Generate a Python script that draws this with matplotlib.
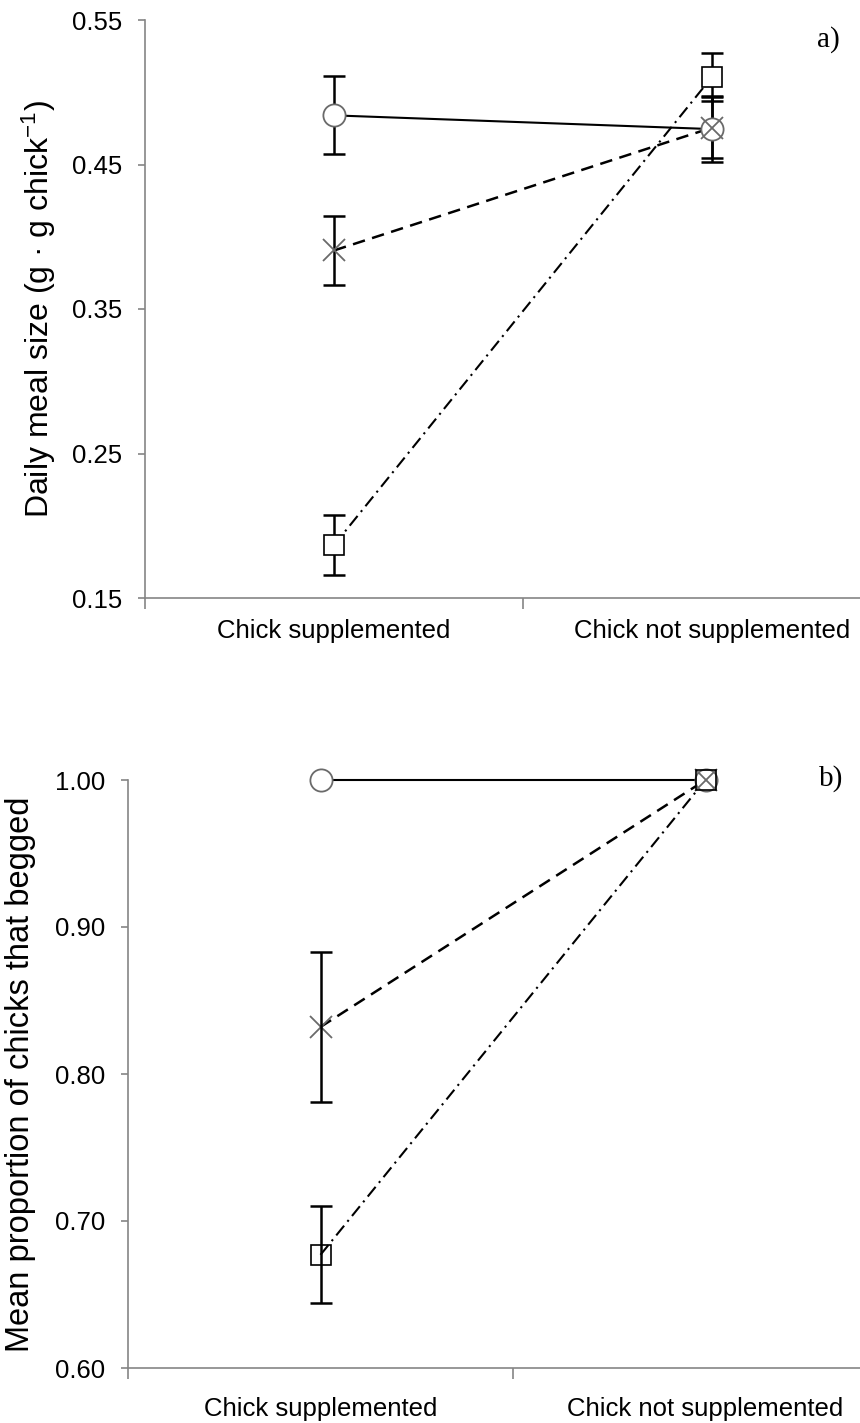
import matplotlib
matplotlib.use("Agg")
import matplotlib.pyplot as plt
import numpy as np

plt.rcParams['font.family'] = ['Liberation Sans', 'DejaVu Sans']
plt.rcParams['mathtext.fontset'] = 'custom'
plt.rcParams['mathtext.rm'] = 'Liberation Sans'
plt.rcParams['mathtext.it'] = 'Liberation Sans'

# ---------------- data ----------------
categories = ["Chick supplemented", "Chick not supplemented"]

# panel a) daily meal size
meal_circle = [0.484, 0.4745]
meal_circle_err = [0.027, 0.023]
meal_star = [0.3905, 0.4755]
meal_star_err = [0.0237, 0.021]
meal_square = [0.1866, 0.5106]
meal_square_err = [0.0207, 0.0166]
meal_ticks = [0.15, 0.25, 0.35, 0.45, 0.55]

# panel b) proportion of chicks that begged
beg_circle = [1.00, 1.00]
beg_circle_err = [0.0, 0.0]
beg_star = [0.832, 1.00]
beg_star_err = [0.051, 0.0]
beg_square = [0.677, 1.00]
beg_square_err = [0.033, 0.0]
beg_ticks = [0.60, 0.70, 0.80, 0.90, 1.00]

# ---------------- figure ----------------
W, H = 860, 1423
fig = plt.figure(figsize=(W / 100, H / 100), dpi=100)
ax1 = fig.add_axes([145 / W, 1 - 598 / H, (901 - 145) / W, 578 / H])
ax2 = fig.add_axes([128 / W, 1 - 1368 / H, (898 - 128) / W, 588 / H])

spine_col = '#858585'
mk_gray = '#6a6a6a'
x = np.arange(1, len(categories) + 1)

styles = {
    'circle': dict(ls='-', lw=1.5, marker='o', ms=16, mec=mk_gray, mew=1.3),
    'star': dict(ls=(0, (5, 3)), lw=1.8, marker='x', ms=16, mec=mk_gray, mew=1.3),
    'square': dict(ls=(0, (6, 2.5, 1, 2.5)), lw=1.5, marker='s', ms=15, mec='black', mew=1.2),
}


def draw(ax, series, err_z, square_face):
    for key, vals, errs in series:
        st = styles[key]
        vals = np.asarray(vals)
        errs = np.asarray(errs)
        ax.plot(x, vals, color='black', ls=st['ls'], lw=st['lw'], zorder=2)
        m = errs > 0
        if m.any():
            ax.errorbar(x[m], vals[m], yerr=errs[m], fmt='none', ecolor='black',
                        elinewidth=1.8, capsize=8, capthick=1.8, zorder=err_z)
        fc = 'white'
        if key == 'star':
            fc = 'none'
        if key == 'square':
            fc = square_face
        ax.plot(x, vals, ls='none', marker=st['marker'], ms=st['ms'],
                mfc=fc, mec=st['mec'], mew=st['mew'], zorder=4)


def style_axes(ax, ticks, ylim, pad_x):
    ax.set_xlim(0.5, len(categories) + 0.5)
    ax.set_ylim(*ylim)
    for s in ['top', 'right']:
        ax.spines[s].set_visible(False)
    for s in ['left', 'bottom']:
        ax.spines[s].set_color(spine_col)
        ax.spines[s].set_linewidth(1.2)
    ax.set_xticks(np.arange(0.5, len(categories) + 1, 1.0))
    ax.set_xticklabels([])
    ax.set_xticks(x, minor=True)
    ax.set_xticklabels(categories, minor=True)
    ax.tick_params(axis='x', which='major', length=8, width=1.2, color=spine_col, direction='out')
    ax.tick_params(axis='x', which='minor', length=0, pad=pad_x, labelsize=18.5)
    ax.set_yticks(ticks)
    ax.set_yticklabels(['%.2f' % t for t in ticks])
    ax.tick_params(axis='y', length=5, width=1.2, color=spine_col, pad=11.5, labelsize=18.5)


draw(ax1, [('circle', meal_circle, meal_circle_err),
           ('star', meal_star, meal_star_err),
           ('square', meal_square, meal_square_err)], err_z=3, square_face='white')
style_axes(ax1, meal_ticks, (0.15, 0.55), pad_x=15)
ax1.set_ylabel("Daily meal size (g \u00b7 g chick$^{\\mathregular{-1}}$)", fontsize=23)
ax1.yaxis.set_label_coords((58 - 145) / 756, 0.5)

draw(ax2, [('circle', beg_circle, beg_circle_err),
           ('star', beg_star, beg_star_err),
           ('square', beg_square, beg_square_err)], err_z=5, square_face='none')
style_axes(ax2, beg_ticks, (0.60, 1.00), pad_x=21)
ax2.set_ylabel("Mean proportion of chicks that begged", fontsize=23.5)
ax2.yaxis.set_label_coords((36 - 128) / 770, 0.5)

for c in (ax1, ax2):
    for ln in c.lines:
        ln.set_clip_on(False)
    for coll in c.collections:
        coll.set_clip_on(False)

fig.text(840 / W, 1 - 40 / H, 'a)', ha='right', va='center', fontsize=21,
         family=['Liberation Serif', 'DejaVu Serif'])
fig.text(843 / W, 1 - 779 / H, 'b)', ha='right', va='center', fontsize=21,
         family=['Liberation Serif', 'DejaVu Serif'])

fig.savefig('out.png', dpi=100)
